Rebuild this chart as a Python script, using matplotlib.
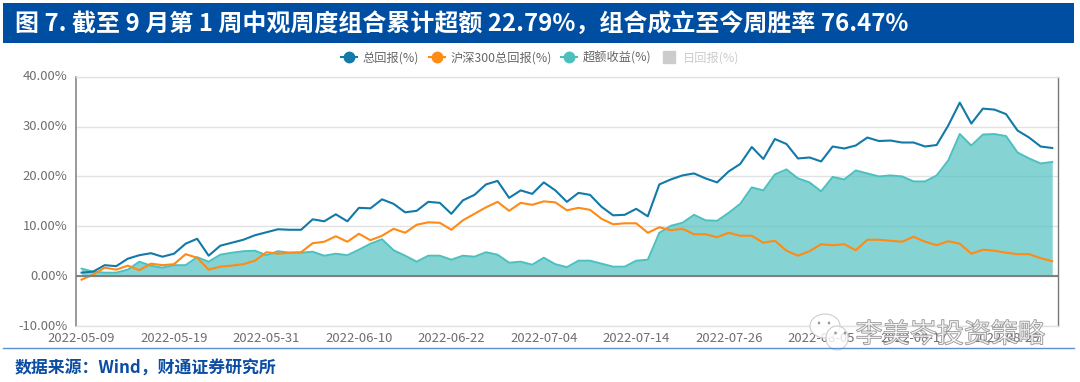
import matplotlib
matplotlib.use("Agg")
import matplotlib.pyplot as plt
import matplotlib.patheffects as pe
from matplotlib.lines import Line2D
from matplotlib.patches import Rectangle, Ellipse
from matplotlib.transforms import ScaledTranslation

plt.rcParams["font.family"] = ["Noto Sans CJK SC", "DejaVu Sans"]

total_return = [
    0.7, 0.9, 2.2, 2.0, 3.5, 4.2, 4.6, 3.9, 4.5, 6.5,
    7.5, 4.1, 6.1, 6.7, 7.3, 8.2, 8.8, 9.4, 9.3, 9.3,
    11.4, 11.0, 12.4, 11.0, 13.7, 13.6, 15.4, 14.5, 12.8, 13.1,
    14.9, 14.7, 12.5, 15.2, 16.3, 18.4, 19.1, 15.7, 17.2, 16.5,
    18.8, 17.2, 14.9, 16.7, 16.3, 13.9, 12.2, 12.3, 13.5, 12.0,
    18.4, 19.4, 20.2, 20.6, 19.6, 18.8, 21.0, 22.5, 25.9, 23.5,
    27.5, 26.5, 23.6, 23.8, 23.0, 26.0, 25.6, 26.2, 27.8, 27.1,
    27.2, 26.8, 26.8, 26.0, 26.3, 30.2, 34.8, 30.6, 33.6, 33.4,
    32.5, 29.2, 27.8, 26.0, 25.7,
]
hs300_return = [
    -0.7, 0.3, 1.7, 1.3, 2.1, 1.2, 2.5, 2.2, 2.4, 4.4,
    3.7, 1.3, 1.9, 2.1, 2.4, 3.1, 4.8, 4.5, 4.7, 4.8,
    6.6, 6.9, 8.0, 6.9, 8.5, 7.2, 8.1, 9.5, 8.7, 10.3,
    10.8, 10.7, 9.3, 11.2, 12.5, 13.8, 14.9, 13.1, 14.7, 14.3,
    15.0, 14.8, 13.2, 13.7, 13.3, 11.5, 10.4, 10.6, 10.6, 8.7,
    9.8, 9.2, 9.5, 8.4, 8.4, 7.8, 8.7, 8.1, 8.1, 6.7,
    7.1, 5.1, 4.1, 5.0, 6.4, 6.2, 6.4, 5.2, 7.3, 7.3,
    7.1, 6.9, 7.9, 6.9, 6.2, 7.0, 6.5, 4.5, 5.3, 5.1,
    4.7, 4.4, 4.4, 3.6, 3.0,
]
excess_return = [
    1.5, 0.9, 0.7, 0.7, 1.3, 2.9, 2.1, 1.7, 2.2, 2.2,
    3.8, 2.9, 4.3, 4.7, 5.0, 5.1, 4.2, 5.0, 4.7, 4.7,
    4.9, 4.1, 4.5, 4.2, 5.3, 6.5, 7.4, 5.2, 4.1, 2.9,
    4.1, 4.1, 3.3, 4.1, 3.9, 4.8, 4.3, 2.7, 2.9, 2.3,
    3.7, 2.4, 1.8, 3.1, 3.1, 2.5, 1.9, 1.9, 3.1, 3.3,
    8.7, 10.1, 10.7, 12.3, 11.2, 11.1, 12.7, 14.5, 17.8, 17.2,
    20.4, 21.4, 19.6, 18.8, 17.0, 19.9, 19.4, 21.2, 20.6, 20.0,
    20.2, 20.0, 19.0, 19.0, 20.2, 23.2, 28.5, 26.2, 28.4, 28.5,
    28.1, 24.8, 23.6, 22.6, 22.9,
]
tick_idx = [0, 8, 16, 24, 32, 40, 48, 56, 64, 72, 80]
tick_labels = [
    "2022-05-09", "2022-05-19", "2022-05-31", "2022-06-10", "2022-06-22", "2022-07-04",
    "2022-07-14", "2022-07-26", "2022-08-05", "2022-08-17", "2022-08-29",
]
y_ticks = [-10, 0, 10, 20, 30, 40]

BLUE = "#1279a8"
ORANGE = "#ff8a14"
TEAL = "#4cc0bf"
W, H = 1080, 382

fig = plt.figure(figsize=(W / 100, H / 100), dpi=100, facecolor="white")
ax = fig.add_axes([75.8 / W, 1 - 326 / H, (1058 - 75.8) / W, (326 - 76.7) / H])

x = list(range(len(total_return)))
ax.fill_between(x, excess_return, 0, color=TEAL, alpha=0.68, linewidth=0, zorder=2)
ax.plot(x, excess_return, color=TEAL, lw=1.4, zorder=3)
ax.plot(x, total_return, color=BLUE, lw=1.5, zorder=4)
ax.plot(x, hs300_return, color=ORANGE, lw=1.5, zorder=5)
ax.axhline(0, color="#808080", lw=1.5, zorder=6)

ax.set_xlim(-0.5, 84.5)
ax.set_ylim(-10, 40)
ax.set_yticks(y_ticks)
ax.set_yticklabels([f"{v:.2f}%" for v in y_ticks])
ax.set_xticks(tick_idx)
ax.set_xticklabels(tick_labels)
ax.tick_params(length=0, labelsize=9.4, labelcolor="#6e6e6e")
ax.tick_params(axis="y", pad=6)
ax.tick_params(axis="x", pad=4.5)
# y labels sit a little above their grid lines in the original
up = ScaledTranslation(0, 1.5 / 100, fig.dpi_scale_trans)
for lab in ax.get_yticklabels():
    lab.set_transform(lab.get_transform() + up)
ax.grid(axis="y", color="#e2e2e2", lw=1.0, zorder=1)
ax.set_axisbelow(True)
ax.spines["left"].set(color="#888888", lw=1.2)
ax.spines["right"].set(color="#777777", lw=1.0)
ax.spines["top"].set(color="#e2e2e2", lw=1.0)
ax.spines["bottom"].set(color="#e2e2e2", lw=1.0)

# legend, the last entry is switched off in the original
handles = [
    Line2D([], [], color=BLUE, lw=1.5, marker="o", ms=7.5),
    Line2D([], [], color=ORANGE, lw=1.5, marker="o", ms=7.5),
    Line2D([], [], color=TEAL, lw=1.5, marker="o", ms=7.5),
    Line2D([], [], color="#cccccc", lw=0, marker="s", ms=9),
]
leg = fig.legend(
    handles, ["总回报(%)", "沪深300总回报(%)", "超额收益(%)", "日回报(%)"],
    ncol=4, loc="center", bbox_to_anchor=(540 / W, 1 - 57.5 / H), frameon=False,
    fontsize=8.8, handlelength=1.3, handletextpad=0.45, columnspacing=0.8, borderpad=0,
)
for t, c in zip(leg.get_texts(), ["#666666", "#666666", "#666666", "#cccccc"]):
    t.set_color(c)

# overlay in pixel coordinates for the report frame and the watermark
ov = fig.add_axes([0, 0, 1, 1], facecolor="none", zorder=10)
ov.set_xlim(0, W)
ov.set_ylim(H, 0)
ov.axis("off")
ov.add_patch(Rectangle((2.5, 2.5), 1071, 40.5, color="#004ea2", lw=0))
ov.text(15, 24, "图 7. 截至 9 月第 1 周中观周度组合累计超额 22.79%，组合成立至今周胜率 76.47%",
        color="white", fontsize=17.25, fontweight="bold", va="center", ha="left")
ov.plot([2.5, 1074], [348, 348], color="#5b8fd0", lw=1.0)
ov.text(15, 369, "数据来源：Wind，财通证券研究所", color="#0a4da2", fontsize=12.2,
        fontweight="bold", va="center", ha="left")

for cx, cy, w, h in [(825, 326, 30, 24), (837, 338, 22, 24)]:
    ov.add_patch(Ellipse((cx, cy), w, h, fc=(1, 1, 1, 0.8), ec="#c8c8c8", lw=0.7))
for ex, ey in [(819, 323), (829, 323), (835.5, 333), (845, 333)]:
    ov.add_patch(Ellipse((ex, ey), 2.5, 3, fc="#9a9a9a", lw=0))
ov.text(950.5, 335, "李美岑投资策略", color=(1, 1, 1, 0.55), fontsize=19.5, va="center", ha="center",
        path_effects=[pe.withStroke(linewidth=0.8, foreground="#8a8a8a")])

fig.savefig("out.png", dpi=100)
